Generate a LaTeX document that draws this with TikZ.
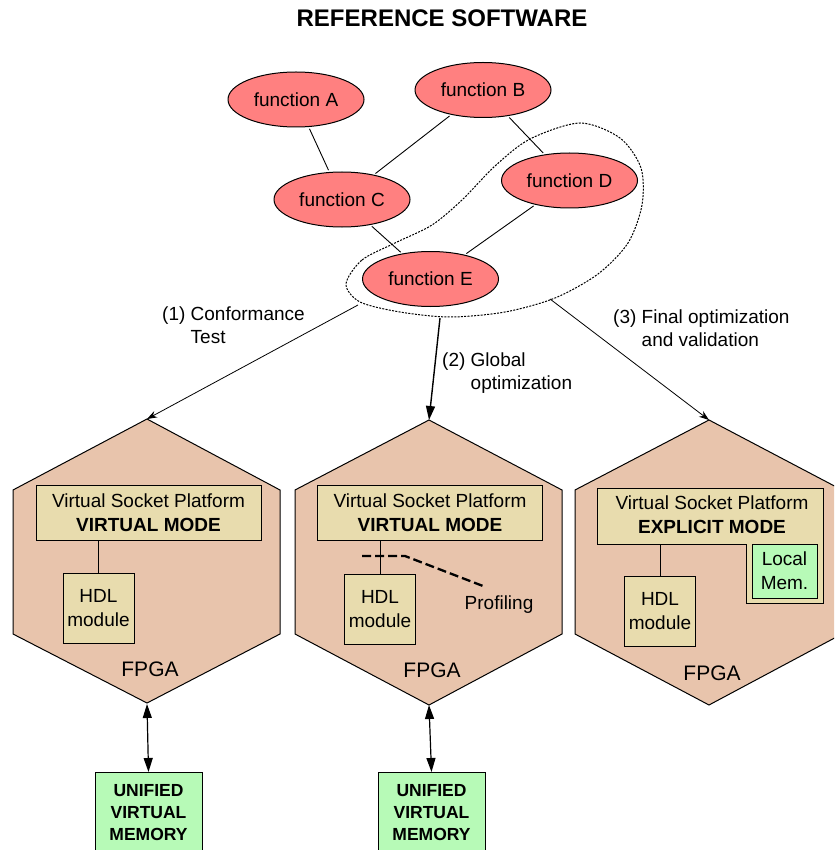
\documentclass[tikz,border=0pt]{standalone}
\usepackage{fontspec}
\setmainfont{Liberation Sans}
\usetikzlibrary{shapes.geometric,arrows.meta}
\definecolor{fnred}{RGB}{255,128,128}
\definecolor{hexfill}{RGB}{232,196,172}
\definecolor{boxfill}{RGB}{232,220,174}
\definecolor{memgreen}{RGB}{183,250,183}
\begin{document}
\begin{tikzpicture}[x=1pt,y=-1pt,
  fn/.style={ellipse, draw, line width=1pt, fill=fnred, minimum width=136, minimum height=55, inner sep=0pt, font=\fontsize{19}{24}\selectfont},
  conn/.style={line width=0.9pt, shorten >=2pt, shorten <=2pt},
  hexa/.style={draw, line width=1pt, fill=hexfill},
  vspbox/.style={draw, line width=1pt, fill=boxfill, minimum width=225, minimum height=55, inner sep=0pt, align=center, font=\fontsize{19}{24}\selectfont},
  hdlbox/.style={draw, line width=1pt, fill=boxfill, minimum width=71, minimum height=70, inner sep=0pt, align=center, font=\fontsize{19}{24}\selectfont},
  membox/.style={draw, line width=1pt, fill=memgreen, minimum width=107, inner xsep=0pt, inner ysep=12pt, align=center, font=\fontsize{17.5}{22}\selectfont\bfseries},
  lbl/.style={anchor=north west, inner sep=0pt, align=left, font=\fontsize{19}{23}\selectfont},
  fpga/.style={font=\fontsize{21}{25}\selectfont, inner sep=0pt},
  thinarrow/.style={line width=0.8pt, -{Stealth[length=10pt,width=7pt]}},
  thickarrow/.style={line width=1.4pt, -{Triangle[length=14pt,width=9pt]}},
  dblarrow/.style={line width=1.2pt, {Triangle[length=14pt,width=9pt]}-{Triangle[length=14pt,width=9pt]}},
  loopline/.style={line width=1pt, dash pattern=on 2pt off 1.3pt}
]
\clip (0,0) rectangle (834,850);

% title
\node (title) at (442,18) {\fontsize{24}{28}\selectfont\bfseries REFERENCE SOFTWARE};

% dotted loop
\draw[loopline] plot[smooth cycle, tension=0.5] coordinates {
 (346,284) (362,260) (395,243) (432,225) (462,200)
 (495,166) (530,139) (580,123) (620,138) (641,168)
 (642,205) (628,243) (598,274) (555,298) (505,312)
 (450,317) (400,312) (360,302)};

% functions
\node[fn] (A) at (296,99.5) {function A};
\node[fn] (B) at (483,90) {function B};
\node[fn] (C) at (342,199.5) {function C};
\node[fn] (D) at (569.5,180.5) {function D};
\node[fn] (E) at (430.5,279) {function E};
\draw[conn] (A) -- (C);
\draw[conn] (B) -- (C);
\draw[conn] (B) -- (D);
\draw[conn] (C) -- (E);
\draw[conn] (D) -- (E);

% hexagons
\draw[hexa] (147,419) -- (280,490) -- (280,634) -- (147,703) -- (13,634) -- (13,490) -- cycle;
\draw[hexa] (429,420) -- (562,490) -- (562,634) -- (429,705) -- (295,634) -- (295,490) -- cycle;
\draw[hexa] (709,420) -- (842,490) -- (842,634) -- (709,705) -- (575,634) -- (575,490) -- cycle;
\coordinate (h1t) at (147,419);
\coordinate (h2t) at (429,420);
\coordinate (h3t) at (709,420);
\coordinate (h1b) at (147,704);
\coordinate (h2b) at (429,705);

% arrows from loop
\coordinate (l1) at (358,305);
\coordinate (l2) at (440,318);
\coordinate (l3) at (550,299);
\draw[thinarrow] (l1) -- (h1t);
\draw[thickarrow] (l2) -- (h2t);
\draw[thinarrow] (l3) -- (h3t);

% labels
\node[lbl] (lab1) at (162,307) {(1) Conformance\\\phantom{(1)~}Test};
\node[lbl] (lab2) at (442,353) {(2) Global\\\phantom{(2)~}optimization};
\node[lbl] (lab3) at (613,310) {(3) Final optimization\\\phantom{(3)~}and validation};

% hexagon 1 contents
\node[vspbox] (v1) at (148.5,512.5) {Virtual Socket Platform\\\textbf{VIRTUAL MODE}};
\node[hdlbox] (m1) at (98.5,608) {HDL\\module};
\draw[line width=1pt] (m1.north) -- (m1.north |- v1.south);
\node[fpga] (f1) at (150,669) {FPGA};

% hexagon 2 contents
\node[vspbox] (v2) at (430,513) {Virtual Socket Platform\\\textbf{VIRTUAL MODE}};
\node[hdlbox] (m2) at (380,609) {HDL\\module};
\draw[line width=1pt] (m2.north) -- (m2.north |- v2.south);
\draw[line width=2.3pt, dash pattern=on 9pt off 4pt] (362,556) -- (405,556) -- (483,586);
\node[font=\fontsize{19}{24}\selectfont, inner sep=0pt] (prof) at (499,605) {Profiling};
\node[fpga] (f2) at (432,670) {FPGA};

% hexagon 3 contents
\draw[line width=1pt, fill=boxfill] (597,488) -- (823,488) -- (823,603) -- (746,603) -- (746,544) -- (597,544) -- cycle;
\node[align=center, inner sep=0pt, font=\fontsize{19}{24}\selectfont] (v3) at (712,515) {Virtual Socket Platform\\\textbf{EXPLICIT MODE}};
\coordinate (v3s) at (660,544);
\node[draw, line width=1pt, fill=memgreen, minimum width=65, minimum height=54, inner sep=0pt, align=center, font=\fontsize{19}{24}\selectfont] (lm) at (784.5,571) {Local\\Mem.};
\node[hdlbox] (m3) at (660,611) {HDL\\module};
\draw[line width=1pt] (m3.north) -- (v3s);
\node[fpga] (f3) at (712,673) {FPGA};

% memories
\node[membox, anchor=north] (u1) at (148.5,772) {UNIFIED\\VIRTUAL\\MEMORY};
\node[membox, anchor=north] (u2) at (431.5,772) {UNIFIED\\VIRTUAL\\MEMORY};
\draw[dblarrow] (h1b) -- (u1.north);
\draw[dblarrow] (h2b) -- (u2.north);
\end{tikzpicture}
\end{document}
